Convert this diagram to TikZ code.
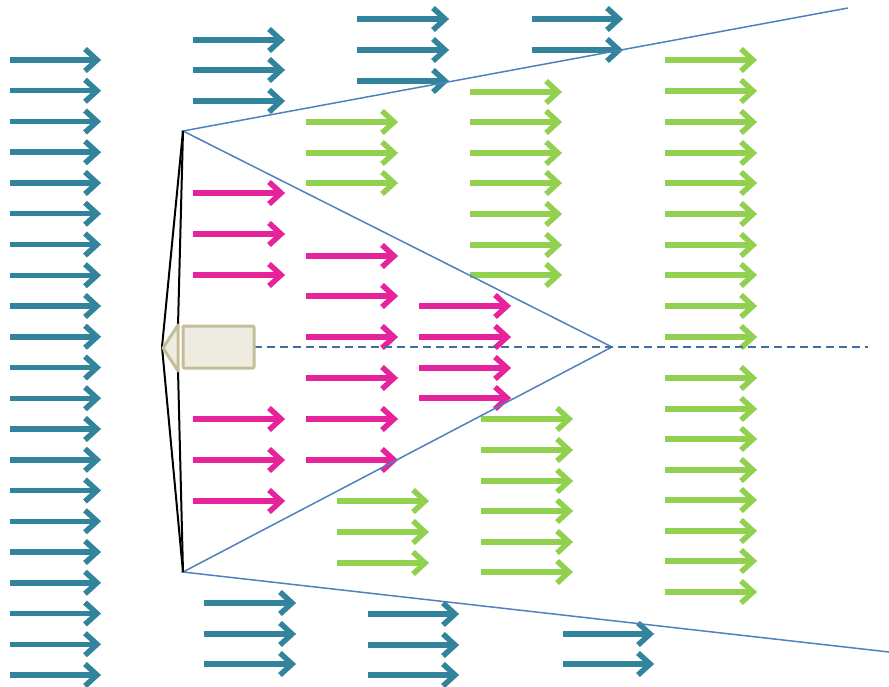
\documentclass[tikz,border=0pt]{standalone}
\definecolor{tealA}{RGB}{49,132,155}
\definecolor{pinkA}{RGB}{230,35,155}
\definecolor{greenA}{RGB}{146,208,80}
\definecolor{blueA}{RGB}{79,129,189}
\definecolor{devfill}{RGB}{238,236,225}
\definecolor{devline}{RGB}{196,189,151}
\newcommand\arrowcol[4]{\foreach \yy in {#4} {%
  \draw[flow,#1] (#2,\yy) -- (#3-3,\yy);
  \draw[flow,#1] (#3-15,\yy-11) -- (#3-3,\yy) -- (#3-15,\yy+11);}}
\begin{document}
\begin{tikzpicture}[x=1pt,y=-1pt,
  flow/.style={line width=5.5pt,line join=miter,miter limit=4},
  beam/.style={draw=blueA,line width=1.5pt},
  wire/.style={draw=black,line width=2pt},
  axis/.style={draw=blueA!85!black,line width=1.6pt,dash pattern=on 8pt off 5pt},
  device/.style={fill=devfill,draw=devline,line width=3pt,line join=round}]
\useasboundingbox (0,0) rectangle (889,687);
% teal arrows
\arrowcol{tealA}{10}{100}{60,90.75,121.5,152.25,183,213.75,244.5,275.25,306,336.75,367.5,398.25,429,459.75,490.5,521.25,552,582.75,613.5,644.25,675}
\arrowcol{tealA}{193}{284}{40,70,101}
\arrowcol{tealA}{357}{448}{19,50,81}
\arrowcol{tealA}{532}{622}{19,50}
\arrowcol{tealA}{204}{295}{603,634,664}
\arrowcol{tealA}{368}{458}{614,645,675}
\arrowcol{tealA}{563}{653}{634,664}
% green arrows
\arrowcol{greenA}{306}{397}{122,153,183}
\arrowcol{greenA}{470}{561}{92,122,153,183,214,245,275}
\arrowcol{greenA}{665}{756}{60,91,122,153,183,214,245,275,306,337}
\arrowcol{greenA}{665}{756}{378,409,439,470,500,531,561,592}
\arrowcol{greenA}{337}{428}{501,532,563}
\arrowcol{greenA}{481}{572}{419,450,481,511,542,572}
% pink arrows
\arrowcol{pinkA}{193}{284}{193,234,275,419,460,501}
\arrowcol{pinkA}{306}{397}{256,296,337,378,419,460}
\arrowcol{pinkA}{419}{510}{306,337,368,398}
% geometry
\coordinate (T) at (183,131);
\coordinate (B) at (183,572);
\coordinate (P) at (162,347);
\coordinate (A) at (612,347);
\coordinate (TE) at (848,8);
\coordinate (BE) at (889,652);
\coordinate (DE) at (868,347);
\coordinate (RT) at (254,347);
\coordinate (CT) at (178,326);
\coordinate (CB) at (178,370);
\draw[beam] (TE) -- (T) -- (A) -- (B) -- (BE);
\draw[axis] (RT) -- (DE);
\draw[wire] (T) -- (P) -- (B);
\draw[wire] (T) -- (CT);
\draw[wire] (B) -- (CB);
% device
\draw[device] (178,325) -- (163,348) -- (178,371) -- cycle;
\draw[device,rounded corners=1pt] (183,326) rectangle (254,368);
\end{tikzpicture}
\end{document}
